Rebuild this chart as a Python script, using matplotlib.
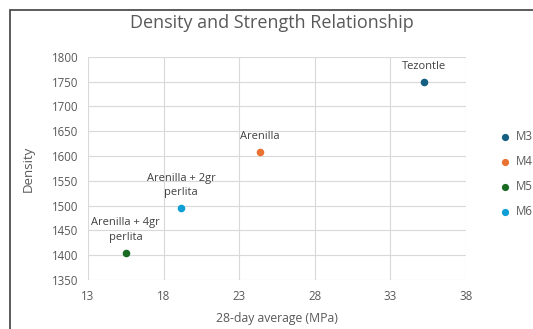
import matplotlib
matplotlib.use("Agg")
import matplotlib.pyplot as plt
from matplotlib.patches import Rectangle

# data
series = ["M3", "M4", "M5", "M6"]
strength = [35.2, 24.4, 15.5, 19.15]      # 28-day average (MPa)
density = [1750, 1608, 1405, 1495]
point_labels = ["Tezontle", "Arenilla", "Arenilla + 4gr\nperlita", "Arenilla + 2gr\nperlita"]
colors = ["#156082", "#E97132", "#196B24", "#0F9ED5"]

x_ticks = [13, 18, 23, 28, 33, 38]
y_ticks = [1350, 1400, 1450, 1500, 1550, 1600, 1650, 1700, 1750, 1800]

plt.rcParams['font.family'] = ['Open Sans', 'DejaVu Sans']
txt = "#595959"

fig = plt.figure(figsize=(5.33, 3.29), dpi=100)
ax = fig.add_axes([0.165, 0.149, 0.709, 0.678])

# chart frame (runs off the right/bottom edge like the screenshot)
fig.patches.append(Rectangle((10 / 533, -0.1), 1.2, 1 - 10 / 329 + 0.1,
                             transform=fig.transFigure, fill=False,
                             edgecolor="#404040", linewidth=1.2))

for k in range(len(series)):
    ax.scatter(strength[k], density[k], s=30, color=colors[k], label=series[k],
               zorder=3, linewidths=0)
    ax.annotate(point_labels[k], (strength[k], density[k]), xytext=(0, 7),
                textcoords="offset points", ha="center", va="bottom",
                fontsize=8, color="#404040", linespacing=1.45)

ax.set_xlim(13, 38)
ax.set_ylim(1350, 1800)
ax.set_xticks(x_ticks)
ax.set_yticks(y_ticks)
ax.grid(True, color="#d9d9d9", linewidth=0.8)
ax.set_axisbelow(True)
for s in ax.spines.values():
    s.set_visible(False)
ax.tick_params(length=0, labelsize=8.3, labelcolor=txt, pad=7)

ax.set_xlabel("28-day average (MPa)", fontsize=8.8, color=txt, labelpad=7)
ax.set_ylabel("Density", fontsize=9.5, color=txt, labelpad=12)
fig.text(0.51, 0.93, "Density and Strength Relationship", ha="center", va="center",
         fontsize=13, color=txt)

ax.legend(loc="center left", bbox_to_anchor=(1.06, 0.475), frameon=False,
          fontsize=8.3, labelcolor=txt, handletextpad=0.0, markerscale=0.95,
          labelspacing=1.05, borderaxespad=0)

fig.savefig("out.png", dpi=100)
